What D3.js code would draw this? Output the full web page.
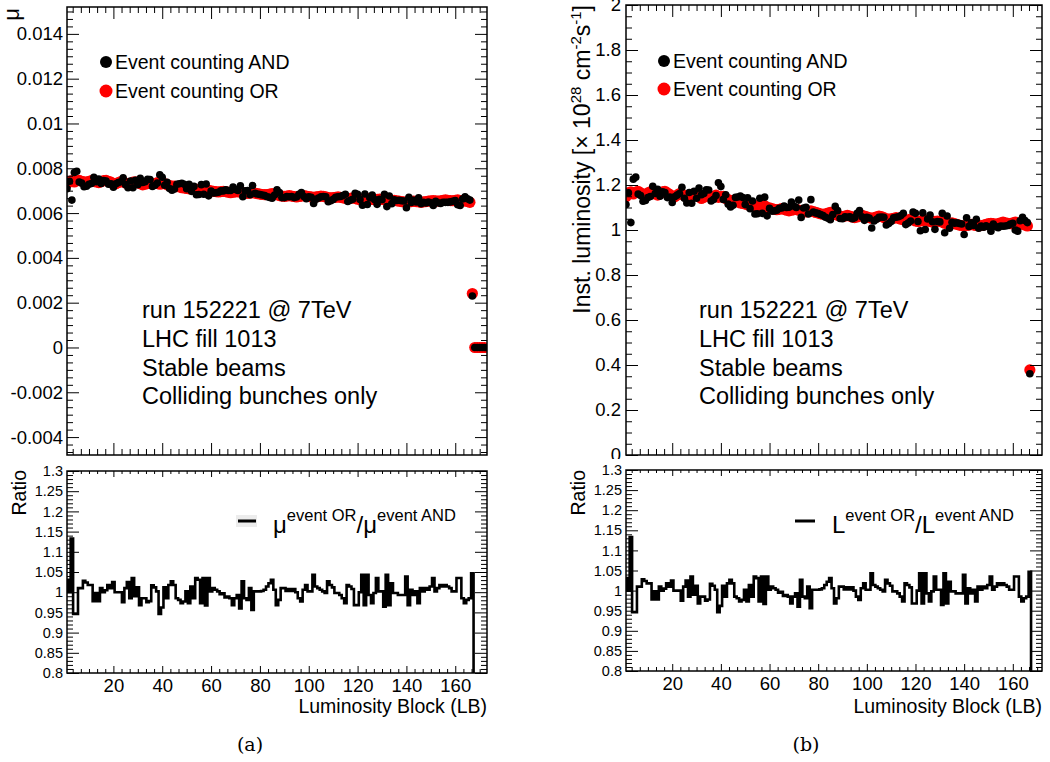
<!DOCTYPE html>
<html><head><meta charset="utf-8">
<script src="https://cdn.jsdelivr.net/npm/d3@7"></script>
<style>body{margin:0;background:#fff} text{font-family:"Liberation Sans",Arial,Helvetica,sans-serif}</style>
</head><body><svg id="c" width="1050" height="762"></svg>
<script>
// ---- data (index i -> luminosity block i+1) ----
const lumiOR = [1.148,1.165,1.170,1.160,1.168,1.172,1.165,1.160,1.158,1.165,
1.170,1.168,1.160,1.155,1.162,1.170,1.172,1.165,1.158,1.150,
1.148,1.155,1.162,1.160,1.152,1.148,1.150,1.158,1.160,1.155,
1.148,1.140,1.145,1.150,1.152,1.148,1.150,1.155,1.145,1.148,
1.150,1.140,1.135,1.132,1.130,1.128,1.125,1.120,1.118,1.115,
1.112,1.110,1.112,1.108,1.105,1.110,1.112,1.108,1.100,1.098,
1.095,1.092,1.090,1.092,1.095,1.092,1.088,1.085,1.088,1.090,
1.092,1.088,1.085,1.082,1.080,1.082,1.085,1.082,1.078,1.075,
1.072,1.070,1.072,1.075,1.078,1.075,1.070,1.065,1.062,1.060,
1.062,1.065,1.062,1.058,1.055,1.058,1.062,1.065,1.062,1.058,
1.055,1.052,1.055,1.058,1.062,1.060,1.055,1.050,1.048,1.050,
1.052,1.055,1.052,1.048,1.045,1.042,1.045,1.048,1.045,1.040,
1.038,1.040,1.042,1.045,1.042,1.038,1.035,1.038,1.040,1.038,
1.035,1.030,1.028,1.030,1.032,1.028,1.025,1.022,1.020,1.018,
1.020,1.022,1.025,1.022,1.020,1.018,1.020,1.022,1.025,1.028,
1.030,1.028,1.025,1.028,1.032,1.035,1.032,1.030,1.028,1.032,
1.035,1.030,1.025,1.028,1.022,1.018,0.378,
0,0,0,0,0];
const lumiAND = [1.113,1.165,1.033,1.226,1.235,1.160,1.153,1.128,1.131,1.144,
1.149,1.194,1.162,1.181,1.150,1.170,1.166,1.144,1.147,1.122,
1.148,1.155,1.162,1.190,1.141,1.120,1.167,1.119,1.172,1.141,
1.186,1.157,1.162,1.179,1.178,1.129,1.136,1.153,1.210,1.193,
1.136,1.157,1.115,1.102,1.110,1.145,1.147,1.151,1.144,1.113,
1.143,1.095,1.129,1.071,1.072,1.141,1.074,1.146,1.063,1.096,
1.084,1.085,1.088,1.097,1.098,1.106,1.100,1.101,1.124,1.107,
1.100,1.133,1.056,1.098,1.101,1.071,1.135,1.080,1.076,1.073,
1.069,1.064,1.057,1.052,1.046,1.069,1.105,1.086,1.051,1.050,
1.059,1.057,1.059,1.050,1.055,1.074,1.087,1.059,1.043,1.056,
1.053,1.009,1.040,1.048,1.056,1.058,1.057,1.022,1.029,1.038,
1.054,1.057,1.059,1.064,1.074,1.024,1.031,1.040,1.080,1.074,
1.038,0.997,1.076,1.002,1.049,1.067,1.037,1.003,1.038,1.036,
1.074,0.988,1.062,1.008,1.034,1.030,1.032,1.029,1.027,0.980,
1.054,1.016,1.032,1.020,1.048,1.008,1.018,1.012,1.019,1.014,
0.995,1.026,1.015,1.010,1.018,1.017,1.018,1.020,1.026,1.030,
1.000,0.995,1.041,1.056,1.042,1.033,0.361,
0,0,0,0,0];
// mu values in units of 1e-3
const muOR = [7.31,7.42,7.45,7.39,7.44,7.46,7.42,7.39,7.38,7.42,
7.45,7.44,7.39,7.36,7.40,7.45,7.46,7.42,7.38,7.32,
7.31,7.36,7.40,7.39,7.34,7.31,7.32,7.38,7.39,7.36,
7.31,7.26,7.29,7.32,7.34,7.31,7.32,7.36,7.29,7.31,
7.32,7.26,7.23,7.21,7.20,7.18,7.17,7.13,7.12,7.10,
7.08,7.07,7.08,7.06,7.04,7.07,7.08,7.06,7.01,6.99,
6.97,6.96,6.94,6.96,6.97,6.96,6.93,6.91,6.93,6.94,
6.96,6.93,6.91,6.89,6.88,6.89,6.91,6.89,6.87,6.85,
6.83,6.82,6.83,6.85,6.87,6.85,6.82,6.78,6.76,6.75,
6.76,6.78,6.76,6.74,6.72,6.74,6.76,6.78,6.76,6.74,
6.72,6.70,6.72,6.74,6.76,6.75,6.72,6.69,6.68,6.69,
6.70,6.72,6.70,6.68,6.66,6.64,6.66,6.68,6.66,6.62,
6.61,6.62,6.64,6.66,6.64,6.61,6.59,6.61,6.62,6.61,
6.59,6.56,6.55,6.56,6.57,6.55,6.53,6.51,6.50,6.48,
6.50,6.51,6.53,6.51,6.50,6.48,6.50,6.51,6.53,6.55,
6.56,6.55,6.53,6.55,6.57,6.59,6.57,6.56,6.55,6.57,
6.59,6.56,6.53,6.55,6.51,6.48,2.41,
0,0,0,0,0];
const muAND = [7.09,7.42,6.58,7.81,7.87,7.39,7.34,7.18,7.20,7.29,
7.32,7.60,7.40,7.52,7.32,7.45,7.43,7.29,7.31,7.15,
7.31,7.36,7.40,7.58,7.27,7.13,7.43,7.13,7.46,7.27,
7.55,7.37,7.40,7.51,7.50,7.19,7.24,7.34,7.71,7.60,
7.24,7.37,7.10,7.02,7.07,7.29,7.31,7.33,7.29,7.09,
7.28,6.97,7.19,6.82,6.83,7.27,6.84,7.30,6.77,6.98,
6.90,6.91,6.93,6.99,6.99,7.04,7.01,7.01,7.16,7.05,
7.01,7.22,6.73,6.99,7.01,6.82,7.23,6.88,6.85,6.83,
6.81,6.78,6.73,6.70,6.66,6.81,7.04,6.92,6.69,6.69,
6.74,6.73,6.74,6.69,6.72,6.84,6.92,6.74,6.64,6.73,
6.71,6.43,6.62,6.67,6.73,6.74,6.73,6.51,6.55,6.61,
6.71,6.73,6.74,6.78,6.84,6.52,6.57,6.62,6.88,6.84,
6.61,6.35,6.85,6.38,6.68,6.80,6.60,6.39,6.61,6.60,
6.84,6.29,6.76,6.42,6.59,6.56,6.57,6.55,6.54,6.24,
6.71,6.47,6.57,6.50,6.68,6.42,6.48,6.45,6.49,6.46,
6.34,6.53,6.46,6.43,6.48,6.48,6.48,6.50,6.53,6.56,
6.37,6.34,6.63,6.73,6.64,6.58,2.30,
0,0,0,0,0];
const ratio = [1.031,1.000,1.133,0.946,0.946,1.010,1.010,1.028,1.024,1.018,
1.018,0.978,0.998,0.978,1.010,1.000,1.005,1.018,1.010,1.025,
1.000,1.000,1.000,0.975,1.010,1.025,0.985,1.035,0.990,1.012,
0.968,0.985,0.985,0.975,0.978,1.017,1.012,1.002,0.946,0.962,
1.012,0.985,1.018,1.027,1.018,0.985,0.981,0.973,0.977,1.002,
0.973,1.014,0.985,1.035,1.031,0.973,1.035,0.967,1.035,1.002,
1.010,1.006,1.002,0.995,0.997,0.987,0.989,0.985,0.968,0.985,
0.993,0.960,1.027,0.985,0.981,1.010,0.956,1.002,1.002,1.002,
1.003,1.006,1.014,1.022,1.031,1.006,0.968,0.981,1.010,1.010,
1.003,1.008,1.003,1.008,1.000,0.985,0.977,1.006,1.018,1.002,
1.002,1.043,1.014,1.010,1.006,1.002,0.998,1.027,1.018,1.012,
0.998,0.998,0.993,0.985,0.973,1.018,1.014,1.008,0.968,0.968,
1.000,1.043,0.968,1.043,0.993,0.973,0.998,1.035,1.002,1.002,
0.964,1.043,0.968,1.022,0.998,0.998,0.993,0.993,0.993,1.039,
0.968,1.006,0.993,1.002,0.973,1.010,1.002,1.010,1.006,1.014,
1.035,1.002,1.010,1.018,1.014,1.018,1.014,1.010,1.002,1.002,
1.035,1.035,0.985,0.973,0.981,0.985,1.047,
0,0,0,0,0];

const lbTicks = [20,40,60,80,100,120,140,160];
const muTicks = [-4,-2,0,2,4,6,8,10,12,14];          // x 1e-3
const lumiTicks = [0,0.2,0.4,0.6,0.8,1,1.2,1.4,1.6,1.8,2];
const ratioTicks = [0.8,0.85,0.9,0.95,1,1.05,1.1,1.15,1.2,1.25,1.3];
const legendLabels = ["Event counting AND","Event counting OR"];
const infoLines = ["run 152221 @ 7TeV","LHC fill 1013","Stable beams","Colliding bunches only"];

const svg = d3.select('#c');
svg.append('rect').attr('width',1050).attr('height',762).attr('fill','#fff');

function minorVals(dom, step, sub){
  const out=[]; const s=step/sub;
  const k0=Math.ceil(dom[0]/s-1e-6), k1=Math.floor(dom[1]/s+1e-6);
  for(let k=k0;k<=k1;k++){ if(k%sub!==0) out.push(k*s); }
  return out;
}
function styleAxis(g, fs){
  g.select('.domain').remove();
  g.selectAll('line').attr('stroke','#000').attr('stroke-width',1);
  g.selectAll('text').attr('fill','#000').attr('font-size',fs)
   .attr('font-family','"Liberation Sans",Arial,sans-serif');
}
function frameAxes(x, y, x0,x1,y0,y1, yMaj, yStep, ySub, yFmt, yFs, yPad, xLen, xMinLen, xLabels, yLen, yMinLen){
  styleAxis(svg.append('g').attr('transform',`translate(${x0},0)`)
    .call(d3.axisLeft(y).tickValues(yMaj).tickSize(-yLen).tickPadding(yPad).tickFormat(yFmt)), yFs);
  styleAxis(svg.append('g').attr('transform',`translate(${x0},0)`)
    .call(d3.axisLeft(y).tickValues(minorVals(y.domain(),yStep,ySub)).tickSize(-yMinLen).tickFormat('')), yFs);
  styleAxis(svg.append('g').attr('transform',`translate(${x1},0)`)
    .call(d3.axisRight(y).tickValues(yMaj).tickSize(-yLen).tickFormat('')), yFs);
  styleAxis(svg.append('g').attr('transform',`translate(${x1},0)`)
    .call(d3.axisRight(y).tickValues(minorVals(y.domain(),yStep,ySub)).tickSize(-yMinLen).tickFormat('')), yFs);
  styleAxis(svg.append('g').attr('transform',`translate(0,${y0})`)
    .call(d3.axisTop(x).tickValues(lbTicks).tickSize(-xLen[0]).tickFormat('')), 18);
  styleAxis(svg.append('g').attr('transform',`translate(0,${y0})`)
    .call(d3.axisTop(x).tickValues(minorVals(x.domain(),20,6)).tickSize(-xMinLen[0]).tickFormat('')), 18);
  styleAxis(svg.append('g').attr('transform',`translate(0,${y1})`)
    .call(d3.axisBottom(x).tickValues(lbTicks).tickSize(-xLen[1]).tickPadding(6)
      .tickFormat(xLabels? d=>String(d) : '')), 18.5);
  styleAxis(svg.append('g').attr('transform',`translate(0,${y1})`)
    .call(d3.axisBottom(x).tickValues(minorVals(x.domain(),20,6)).tickSize(-xMinLen[1]).tickFormat('')), 18);
  svg.append('rect').attr('x',x0).attr('y',y0).attr('width',x1-x0).attr('height',y1-y0)
    .attr('fill','none').attr('stroke','#000').attr('stroke-width',1.5);
}

const panels = [
  {id:'a', x0:67, x1:487, xDom:[1,173], tY0:7, tY1:455, tDom:[-4.8,15.2], tTicks:muTicks, tStep:2, tSub:6,
   tFmt:v=>String(+(v/1000).toFixed(3)), tPad:4, and:muAND, or:muOR,
   rY0:471, rY1:673, legX:106, legY:[62,91], infoX:142, caption:'(a)', capX:250},
  {id:'b', x0:626, x1:1042, xDom:[1,172], tY0:5, tY1:455, tDom:[0,2], tTicks:lumiTicks, tStep:0.2, tSub:4,
   tFmt:v=>String(+v.toFixed(1)), tPad:5, and:lumiAND, or:lumiOR,
   rY0:470, rY1:671, legX:664, legY:[61,89], infoX:699, caption:'(b)', capX:806}
];

panels.forEach(p=>{
  const x = d3.scaleLinear().domain(p.xDom).range([p.x0,p.x1]);
  const y = d3.scaleLinear().domain(p.tDom).range([p.tY1,p.tY0]);
  const clipId = 'clipTop'+p.id;
  svg.append('clipPath').attr('id',clipId).append('rect')
    .attr('x',p.x0).attr('y',p.tY0).attr('width',p.x1-p.x0).attr('height',p.tY1-p.tY0);
  const gp = svg.append('g').attr('clip-path',`url(#${clipId})`);
  const orPts = p.or.map((v,i)=>({lb:i+1,v})).filter(d=>d.v>p.tDom[0]);
  const andPts = p.and.map((v,i)=>({lb:i+1,v})).filter(d=>d.v>p.tDom[0]);
  gp.selectAll('circle.or').data(orPts).join('circle').attr('class','or')
    .attr('cx',d=>x(d.lb)).attr('cy',d=>y(d.v)).attr('r',5.6).attr('fill','#ff0000');
  gp.selectAll('circle.and').data(andPts).join('circle').attr('class','and')
    .attr('cx',d=>x(d.lb)).attr('cy',d=>y(d.v)).attr('r',3.8).attr('fill','#000');

  frameAxes(x,y,p.x0,p.x1,p.tY0,p.tY1,p.tTicks,p.tStep,p.tSub,p.tFmt,18.5,p.tPad,[12,12],[6,6],false,12,6);

  svg.append('circle').attr('cx',p.legX).attr('cy',p.legY[0]).attr('r',6).attr('fill','#000');
  svg.append('circle').attr('cx',p.legX).attr('cy',p.legY[1]).attr('r',6.5).attr('fill','#ff0000');
  legendLabels.forEach((t,i)=>{
    svg.append('text').attr('x',p.legX+9).attr('y',p.legY[i]+7).attr('font-size',19.5).text(t);
  });
  infoLines.forEach((t,i)=>{
    svg.append('text').attr('x',p.infoX).attr('y',318+i*28.8).attr('font-size',23.5).text(t);
  });

  svg.append('rect').attr('x',p.id==='a'?0:528).attr('y',459).attr('width',p.id==='a'?525:522).attr('height',303).attr('fill','#fff');
  const yr = d3.scaleLinear().domain([0.8,1.3]).range([p.rY1,p.rY0]);
  const clipR = 'clipR'+p.id;
  svg.append('clipPath').attr('id',clipR).append('rect')
    .attr('x',p.x0).attr('y',p.rY0).attr('width',p.x1-p.x0).attr('height',p.rY1-p.rY0);
  const steps = ratio.map((v,i)=>({x:i+0.5,v}));
  steps.push({x:ratio.length+0.5, v:ratio[ratio.length-1]});
  svg.append('path').attr('clip-path',`url(#${clipR})`)
    .attr('d', d3.line().x(d=>x(d.x)).y(d=>yr(d.v)).curve(d3.curveStepAfter)(steps))
    .attr('fill','none').attr('stroke','#000').attr('stroke-width',2.6);
  frameAxes(x,yr,p.x0,p.x1,p.rY0,p.rY1,ratioTicks,0.05,5,v=>String(+v.toFixed(2)),14.5,4,[6,7],[3,4],true,12,6);

  svg.append('text').attr('x',p.x1).attr('y',713).attr('text-anchor','end').attr('font-size',19.5)
    .text('Luminosity Block (LB)');
  svg.append('text').attr('transform',`translate(${p.id==='a'?26:585},470) rotate(-90)`)
    .attr('text-anchor','end').attr('font-size',19.5).text('Ratio');
  svg.append('text').attr('x',p.capX).attr('y',751).attr('text-anchor','middle').attr('font-size',19)
    .style('font-family','"DejaVu Serif","Liberation Serif",serif').text(p.caption);
});

svg.append('text').attr('transform','translate(19,8) rotate(-90)').attr('text-anchor','end')
  .attr('font-size',22).text('μ');
const t2 = svg.append('text').attr('transform','translate(590,5) rotate(-90)').attr('text-anchor','end').attr('font-size',23);
t2.append('tspan').text('Inst. luminosity [× 10');
t2.append('tspan').attr('font-size',15).attr('dy',-9).text('28');
t2.append('tspan').attr('dy',9).text(' cm');
t2.append('tspan').attr('font-size',15).attr('dy',-9).text('-2');
t2.append('tspan').attr('dy',9).text('s');
t2.append('tspan').attr('font-size',15).attr('dy',-9).text('-1');
t2.append('tspan').attr('dy',9).text(']');

svg.append('rect').attr('x',236).attr('y',515).attr('width',21).attr('height',12).attr('fill','#ececec');
svg.append('line').attr('x1',238).attr('x2',256).attr('y1',521).attr('y2',521).attr('stroke','#000').attr('stroke-width',3);
const l1 = svg.append('text').attr('x',273).attr('y',533).attr('font-size',24);
l1.append('tspan').text('μ');
l1.append('tspan').attr('font-size',16.5).attr('dy',-12).text('event OR');
l1.append('tspan').attr('dy',12).text('/μ');
l1.append('tspan').attr('font-size',16.5).attr('dy',-12).text('event AND');
svg.append('line').attr('x1',795).attr('x2',815).attr('y1',521).attr('y2',521).attr('stroke','#000').attr('stroke-width',3);
const l2 = svg.append('text').attr('x',832).attr('y',533).attr('font-size',24);
l2.append('tspan').text('L');
l2.append('tspan').attr('font-size',16.5).attr('dy',-12).text('event OR');
l2.append('tspan').attr('dy',12).text('/L');
l2.append('tspan').attr('font-size',16.5).attr('dy',-12).text('event AND');
</script></body></html>
